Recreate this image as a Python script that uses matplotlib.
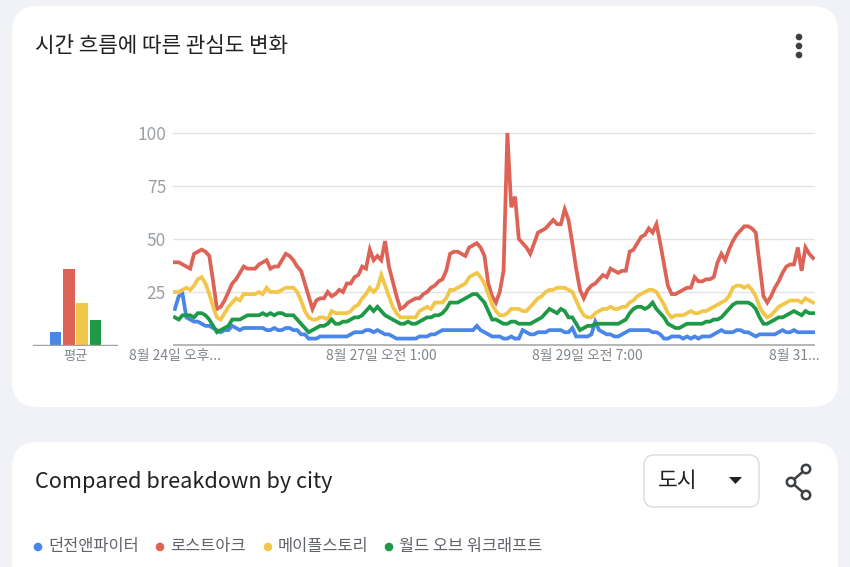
import numpy as np
import matplotlib.pyplot as plt
from matplotlib.patches import FancyBboxPatch, Circle, Polygon

plt.rcParams['font.family'] = ['Noto Sans CJK KR', 'DejaVu Sans']

# search terms, hourly interest (8/24 evening .. 8/31)
terms = ['던전앤파이터', '로스트아크', '메이플스토리', '월드 오브 워크래프트']
colors = ['#4a86e8', '#de6357', '#f2c649', '#1e9a47']

dnf = [17, 23, 24, 13, 12, 11, 11, 10, 9, 9,
       8, 7, 6, 7, 7, 9, 8, 7, 8, 8,
       8, 8, 8, 8, 7, 7, 8, 7, 7, 8,
       8, 7, 7, 5, 5, 3, 3, 3, 4, 4,
       4, 4, 4, 4, 4, 4, 5, 6, 6, 6,
       7, 7, 6, 7, 6, 5, 5, 4, 3, 3,
       3, 3, 3, 3, 4, 4, 4, 5, 5, 6,
       7, 7, 7, 7, 7, 7, 7, 7, 7, 9,
       7, 6, 5, 4, 4, 4, 3, 3, 4, 3,
       3, 7, 6, 5, 5, 6, 6, 6, 7, 7,
       7, 7, 6, 6, 8, 4, 4, 4, 4, 5,
       11, 7, 6, 5, 5, 4, 4, 5, 6, 7,
       7, 7, 7, 7, 7, 6, 6, 5, 3, 3,
       4, 4, 4, 3, 4, 3, 4, 3, 4, 4,
       4, 5, 6, 7, 6, 6, 6, 7, 7, 6,
       6, 5, 4, 5, 5, 5, 5, 5, 6, 7,
       6, 6, 7, 6, 6, 6, 6, 6]

lostark = [39, 39, 38, 37, 36, 43, 44, 45, 44, 42,
           30, 17, 18, 21, 25, 29, 31, 34, 37, 36,
           36, 36, 38, 39, 40, 36, 37, 37, 40, 43,
           42, 40, 37, 35, 29, 23, 17, 21, 22, 22,
           25, 23, 24, 26, 25, 29, 29, 32, 33, 37,
           36, 45, 40, 42, 40, 49, 37, 30, 23, 17,
           18, 20, 21, 22, 22, 24, 25, 27, 28, 30,
           31, 35, 43, 44, 44, 43, 42, 46, 47, 48,
           46, 42, 29, 23, 20, 25, 35, 100, 65, 70,
           50, 48, 46, 43, 48, 53, 54, 55, 57, 59,
           57, 57, 64, 59, 48, 36, 26, 22, 26, 28,
           29, 31, 33, 32, 36, 35, 34, 35, 35, 44,
           45, 48, 51, 52, 55, 53, 57, 48, 38, 28,
           24, 24, 25, 26, 27, 27, 32, 30, 30, 31,
           31, 32, 39, 43, 40, 45, 49, 52, 54, 56,
           56, 55, 53, 38, 23, 20, 23, 27, 30, 34,
           37, 38, 38, 46, 35, 46, 43, 41]

maple = [25, 25, 26, 27, 26, 28, 31, 32, 29, 24,
         18, 13, 12, 15, 18, 20, 22, 21, 24, 24,
         24, 24, 25, 24, 27, 25, 25, 25, 26, 27,
         27, 27, 25, 21, 16, 13, 12, 12, 13, 13,
         12, 16, 15, 15, 15, 15, 16, 18, 19, 22,
         24, 27, 25, 27, 33, 28, 23, 18, 15, 13,
         13, 13, 13, 13, 16, 17, 18, 17, 20, 20,
         20, 22, 26, 26, 27, 28, 29, 32, 33, 34,
         32, 29, 24, 19, 16, 14, 14, 15, 17, 17,
         17, 16, 16, 18, 20, 22, 23, 25, 26, 26,
         27, 27, 27, 26, 25, 21, 17, 14, 13, 13,
         15, 16, 17, 17, 18, 17, 17, 18, 18, 20,
         21, 23, 24, 25, 26, 26, 25, 22, 19, 15,
         13, 14, 14, 14, 15, 16, 15, 15, 16, 16,
         17, 18, 19, 20, 21, 23, 27, 28, 28, 27,
         28, 26, 23, 18, 15, 13, 14, 16, 18, 19,
         20, 21, 21, 21, 20, 22, 21, 20]

wow = [13, 12, 14, 14, 14, 13, 15, 15, 14, 12,
       9, 6, 7, 8, 9, 12, 12, 12, 13, 14,
       14, 14, 14, 15, 14, 15, 14, 15, 15, 14,
       14, 14, 12, 10, 8, 6, 7, 8, 9, 9,
       10, 12, 10, 10, 11, 11, 12, 13, 13, 14,
       16, 18, 16, 18, 16, 14, 13, 12, 11, 10,
       10, 11, 10, 10, 11, 12, 13, 13, 14, 14,
       15, 17, 20, 20, 20, 21, 22, 23, 24, 24,
       22, 20, 16, 12, 12, 11, 10, 10, 11, 11,
       10, 10, 10, 10, 11, 12, 13, 15, 17, 16,
       15, 17, 16, 13, 13, 10, 7, 8, 9, 9,
       10, 10, 10, 10, 10, 10, 10, 11, 12, 15,
       17, 18, 18, 17, 18, 20, 17, 15, 13, 10,
       9, 8, 8, 9, 10, 10, 10, 10, 10, 11,
       11, 12, 12, 13, 15, 17, 19, 20, 20, 20,
       20, 19, 17, 13, 10, 10, 11, 12, 13, 13,
       14, 15, 16, 15, 14, 16, 15, 15]

averages = [6, 36, 20, 12]

tick_hours = [0, 54, 108, 162]
tick_labels = ['8월 24일 오후...', '8월 27일 오전 1:00', '8월 29일 오전 7:00', '8월 31...']

W, H = 850, 567
fig = plt.figure(figsize=(W / 100, H / 100), dpi=100)
fig.patch.set_facecolor('#f0f2f7')


def px_axes(x0, y0, x1, y1):
    return fig.add_axes([x0 / W, 1 - y1 / H, (x1 - x0) / W, (y1 - y0) / H])


# background layer in pixel coordinates
bg = px_axes(0, 0, W, H)
bg.set_xlim(0, W)
bg.set_ylim(H, 0)
bg.axis('off')

bg.add_patch(FancyBboxPatch((12, 6), 826, 401, boxstyle='round,pad=0,rounding_size=26',
                            fc='white', ec='none'))
bg.add_patch(FancyBboxPatch((12, 442), 826, 200, boxstyle='round,pad=0,rounding_size=26',
                            fc='white', ec='none'))

bg.text(35, 46, '시간 흐름에 따른 관심도 변화', fontsize=15.3, va='center', color='#202124')
for y in (37, 46, 55):
    bg.add_patch(Circle((799, y), 2.6, color='#3c4043'))

# bottom card
bg.text(35, 482, 'Compared breakdown by city', fontsize=15.6, va='center', color='#202124')
bg.add_patch(FancyBboxPatch((644, 455), 115, 52, boxstyle='round,pad=0,rounding_size=10',
                            fc='white', ec='#dadce0', lw=1))
bg.text(658, 481, '도시', fontsize=15.5, va='center', color='#202124')
bg.add_patch(Polygon([(729, 477), (742, 477), (735.5, 484)], closed=True, fc='#202124'))

share = [(806, 469), (791, 482), (806, 495)]
bg.plot([share[0][0], share[1][0], share[2][0]], [share[0][1], share[1][1], share[2][1]],
        color='#3c4043', lw=1.8)
for cx, cy in share:
    bg.add_patch(Circle((cx, cy), 4.2, fc='white', ec='#3c4043', lw=1.8, zorder=3))

legend_x = [38, 160, 268, 389]
for lx, name, c in zip(legend_x, terms, colors):
    bg.add_patch(Circle((lx, 547), 3.6, color=c))
    bg.text(lx + 10, 547, name, fontsize=11.8, va='center', color='#5f6368')

# average bars
bx = px_axes(33, 132, 118, 346)
bx.patch.set_alpha(0)
bx.bar(np.arange(len(averages)), averages, width=0.88, color=colors)
bx.axhline(0, color='#a0a0a0', lw=1)
bx.set_xlim(-1.7, 4.7)
bx.set_ylim(-0.5, 100.5)
bx.set_yticks([])
bx.set_xticks([1.5])
bx.set_xticklabels(['평균'], fontsize=9.5, color='#80868b')
bx.tick_params(axis='x', length=0, pad=3)
for s in bx.spines.values():
    s.set_visible(False)

# main time series
ax = px_axes(173, 132, 815, 346)
ax.patch.set_alpha(0)
hours = np.arange(len(lostark))
for vals, c in zip([dnf, lostark, maple, wow], colors):
    ax.plot(hours, vals, color=c, lw=2.7, solid_joinstyle='miter', zorder=3)

ax.set_xlim(-0.5, 167.5)
ax.set_ylim(-0.5, 100.5)
ax.set_yticks([25, 50, 75, 100])
ax.set_yticklabels(['25', '50', '75', '100'], fontsize=12.5, color='#9aa0a6')
ax.grid(axis='y', color='#e3e3e3', lw=1)
ax.axhline(0, color='#b0b0b0', lw=1.3)
ax.set_xticks(tick_hours)
ax.set_xticklabels(tick_labels, fontsize=10, color='#80868b')
ax.tick_params(axis='y', length=0, pad=5)
ax.tick_params(axis='x', length=0, pad=2.5)
for s in ax.spines.values():
    s.set_visible(False)

fig.savefig('out.png', dpi=100, facecolor=fig.get_facecolor())
